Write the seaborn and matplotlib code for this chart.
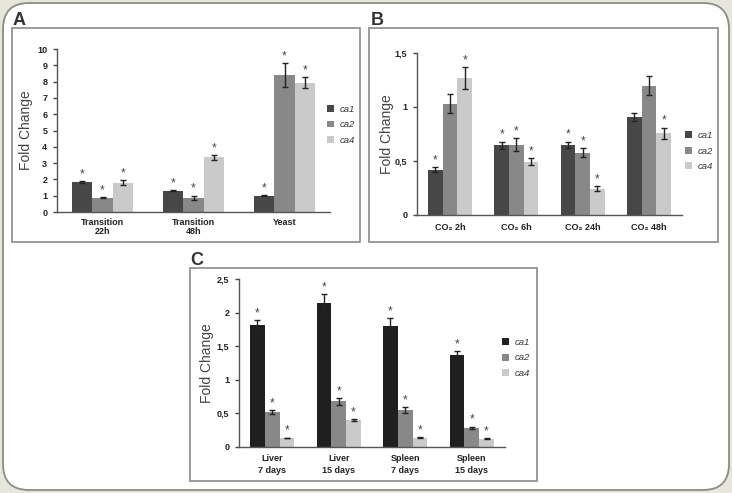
import numpy as np
import pandas as pd
import matplotlib
matplotlib.use("Agg")
import matplotlib.pyplot as plt
import seaborn as sns
from matplotlib.patches import FancyBboxPatch, Rectangle, Patch
from matplotlib.container import BarContainer

sns.set_theme(style="white")
plt.rcParams["font.family"] = ["Liberation Sans", "DejaVu Sans"]

genes = ["ca1", "ca2", "ca4"]

# Panel A
a_cats = ["Transition\n22h", "Transition\n48h", "Yeast"]
a_ca1 = [1.82, 1.30, 1.00]
a_ca1_err = [0.06, 0.04, 0.04]
a_ca2 = [0.87, 0.88, 8.42]
a_ca2_err = [0.02, 0.13, 0.73]
a_ca4 = [1.79, 3.36, 7.92]
a_ca4_err = [0.15, 0.15, 0.34]
a_sig = [[True, True, True], [True, True, True], [True, True, True]]
a_yticks = [0, 1, 2, 3, 4, 5, 6, 7, 8, 9, 10]
a_yticklabels = ["0", "1", "2", "3", "4", "5", "6", "7", "8", "9", "10"]

# Panel B
b_cats = ["CO\u2082 2h", "CO\u2082 6h", "CO\u2082 24h", "CO\u2082 48h"]
b_ca1 = [0.42, 0.645, 0.65, 0.905]
b_ca1_err = [0.025, 0.035, 0.03, 0.035]
b_ca2 = [1.03, 0.65, 0.578, 1.198]
b_ca2_err = [0.09, 0.06, 0.04, 0.09]
b_ca4 = [1.27, 0.495, 0.245, 0.755]
b_ca4_err = [0.10, 0.035, 0.025, 0.055]
b_sig = [[True, True, True, False], [False, True, True, False], [True, True, True, True]]
b_yticks = [0, 0.5, 1, 1.5]
b_yticklabels = ["0", "0,5", "1", "1,5"]

# Panel C
c_cats = ["Liver\n7 days", "Liver\n15 days", "Spleen\n7 days", "Spleen\n15 days"]
c_ca1 = [1.82, 2.14, 1.80, 1.37]
c_ca1_err = [0.07, 0.13, 0.12, 0.06]
c_ca2 = [0.515, 0.68, 0.55, 0.285]
c_ca2_err = [0.03, 0.05, 0.05, 0.02]
c_ca4 = [0.135, 0.395, 0.135, 0.125]
c_ca4_err = [0.005, 0.015, 0.008, 0.005]
c_sig = [[True, True, True, True], [True, True, True, True], [True, True, True, True]]
c_yticks = [0, 0.5, 1, 1.5, 2, 2.5]
c_yticklabels = ["0", "0,5", "1", "1,5", "2", "2,5"]

W, H = 732, 493
fig = plt.figure(figsize=(W / 100, H / 100), dpi=100)
fig.patch.set_facecolor("#e6e6dc")

bg = fig.add_axes([0, 0, 1, 1], zorder=-1)
bg.set_xlim(0, W)
bg.set_ylim(H, 0)
bg.axis("off")
bg.add_patch(FancyBboxPatch((3, 3), 726, 487, boxstyle="round,pad=0,rounding_size=26",
                            fc="white", ec="#8c8c80", lw=1.3))
for (l, t, r, b) in [(12, 28, 360, 242), (369, 28, 718, 242), (190, 268, 537, 481)]:
    bg.add_patch(Rectangle((l, t), r - l, b - t, fill=False, ec="#8a8a8a", lw=1.2))
for x, y, s in [(13, 25, "A"), (371, 25, "B"), (190, 265, "C")]:
    bg.text(x, y, s, fontsize=13, fontweight="bold", color="#333333", va="baseline")


def rect(l, t, r, b):
    return [l / W, 1 - b / H, (r - l) / W, (b - t) / H]


def panel(r, cats, vals, errs, sigs, ylim, yticks, yticklabels, pal, leg_anchor,
          lab_x, xlab_ls, xlab_pad):
    ax = fig.add_axes(rect(*r))
    ax.set_facecolor("none")
    rows = []
    for g, v in zip(genes, vals):
        for c, val in zip(cats, v):
            rows.append({"cat": c, "gene": g, "val": val})
    df = pd.DataFrame(rows)
    sns.barplot(data=df, x="cat", y="val", hue="gene", palette=pal, width=0.667,
                errorbar=None, saturation=1, linewidth=0, ax=ax, legend=False)
    bar_conts = [c for c in ax.containers if isinstance(c, BarContainer)]
    for i, cont in enumerate(bar_conts):
        for j, bar in enumerate(cont.patches):
            xc = bar.get_x() + bar.get_width() / 2
            h = bar.get_height()
            e = errs[i][j]
            ax.errorbar(xc, h, yerr=e, fmt="none", ecolor="#222222", elinewidth=1,
                        capsize=2, capthick=1)
            if sigs[i][j]:
                ax.annotate("*", (xc, h + e), xytext=(0, 0.5), textcoords="offset points",
                            ha="center", va="bottom", fontsize=8.5, color="#444444")
    n = len(cats)
    ax.set_xlim(-0.5, n - 0.5)
    ax.set_ylim(*ylim)
    ax.set_yticks(yticks)
    ax.set_yticklabels(yticklabels)
    ax.set_xticks(range(n))
    ax.set_xticklabels(cats, linespacing=xlab_ls)
    ax.set_xticks(np.arange(-0.5, n, 1.0), minor=True)
    ax.tick_params(axis="x", which="major", length=0, pad=xlab_pad, labelsize=6.5,
                   labelcolor="#222222")
    ax.tick_params(axis="x", which="minor", length=3, width=1, color="#444444", direction="out")
    ax.tick_params(axis="y", length=3, width=1, color="#444444", direction="out", pad=4,
                   labelsize=6.5, labelcolor="#222222", left=True)
    for lab in ax.get_xticklabels() + ax.get_yticklabels():
        lab.set_fontweight("bold")
    for s in ["top", "right"]:
        ax.spines[s].set_visible(False)
    for s in ["left", "bottom"]:
        ax.spines[s].set_color("#555555")
        ax.spines[s].set_linewidth(1)
    ax.set_xlabel("")
    ax.set_ylabel("Fold Change", fontsize=10, color="#444444", va="center")
    ax.yaxis.set_label_coords(lab_x, 0.5)
    handles = [Patch(facecolor=c, edgecolor="none", label=g) for g, c in zip(genes, pal)]
    leg = ax.legend(handles=handles, loc="center left", bbox_to_anchor=leg_anchor,
                    frameon=False, fontsize=6.8, handlelength=0.75, handleheight=0.75,
                    handletextpad=0.6, labelspacing=0.7, borderaxespad=0, borderpad=0)
    for t in leg.get_texts():
        t.set_fontstyle("italic")
        t.set_color("#333333")
    return ax


pal_ab = ["#474747", "#888888", "#cacaca"]
pal_c = ["#1f1f1f", "#888888", "#cacaca"]

panel((57, 49, 330, 212), a_cats, [a_ca1, a_ca2, a_ca4], [a_ca1_err, a_ca2_err, a_ca4_err],
      a_sig, (0, 10), a_yticks, a_yticklabels, pal_ab, (0.99, 0.535), -0.113, 1.0, 4)
panel((417, 53, 682, 215), b_cats, [b_ca1, b_ca2, b_ca4], [b_ca1_err, b_ca2_err, b_ca4_err],
      b_sig, (0, 1.5), b_yticks, b_yticklabels, pal_ab, (1.01, 0.395), -0.113, 1.0, 6)
panel((239, 279, 505, 447), c_cats, [c_ca1, c_ca2, c_ca4], [c_ca1_err, c_ca2_err, c_ca4_err],
      c_sig, (0, 2.5), c_yticks, c_yticklabels, pal_c, (0.99, 0.53), -0.12, 1.5, 5)

fig.savefig("out.png", dpi=100, facecolor=fig.get_facecolor())
